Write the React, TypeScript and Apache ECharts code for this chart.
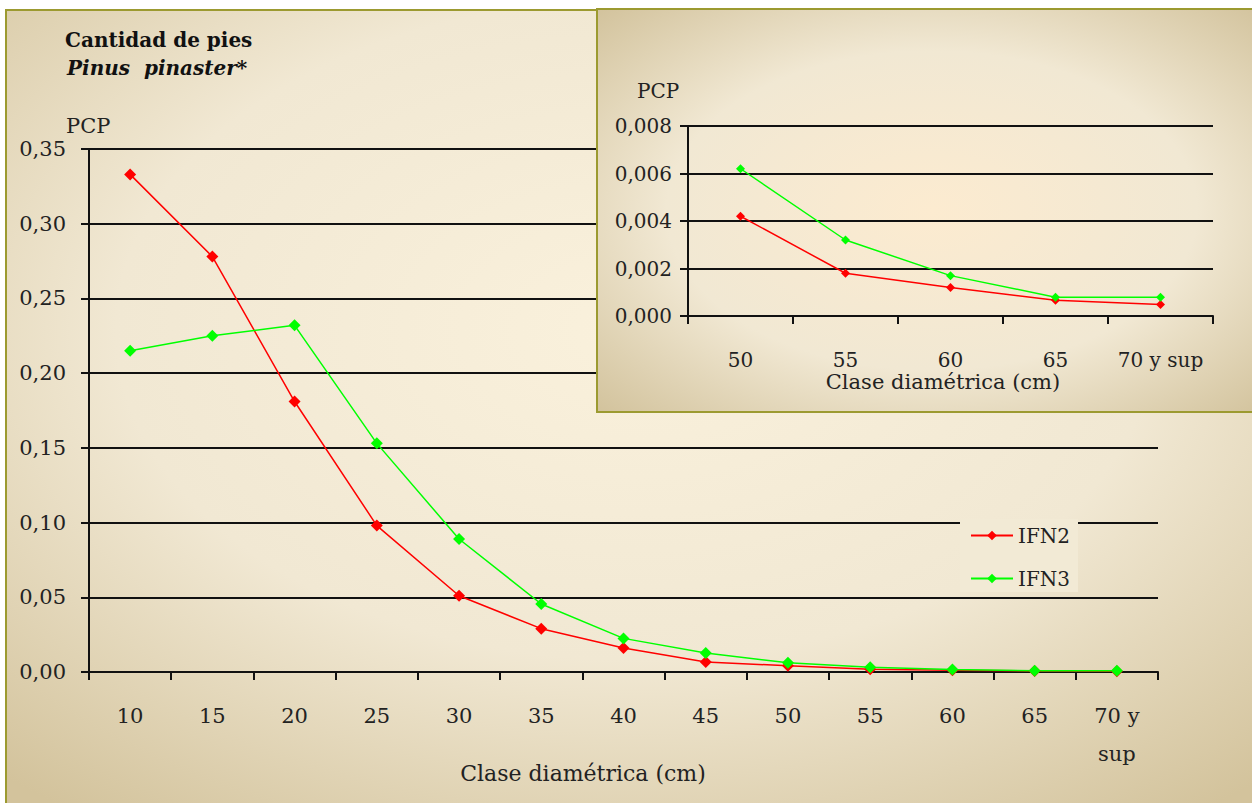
import React, { useEffect, useRef } from "react";
import * as echarts from "echarts";

const categories = ["10", "15", "20", "25", "30", "35", "40", "45", "50", "55", "60", "65", "70 y\nsup"];
const ifn2 = [0.333, 0.278, 0.181, 0.098, 0.051, 0.029, 0.016, 0.0067, 0.0042, 0.0018, 0.0012, 0.0007, 0.0005];
const ifn3 = [0.215, 0.225, 0.232, 0.153, 0.089, 0.0455, 0.0225, 0.0127, 0.0062, 0.0032, 0.0017, 0.0008, 0.0008];

const insetCategories = ["50", "55", "60", "65", "70 y sup"];
const insetIfn2 = [0.0042, 0.0018, 0.0012, 0.00066, 0.00048];
const insetIfn3 = [0.0062, 0.0032, 0.0017, 0.00079, 0.00079];

const FONT = "DejaVu Serif";
const BLACK = "#111";

function parchment(cx: number, cy: number, r: number, inner: string, outer: string) {
  return new echarts.graphic.RadialGradient(cx, cy, r, [
    { offset: 0, color: inner },
    { offset: 0.55, color: "#f1e8d3" },
    { offset: 1, color: outer },
  ]);
}

export default function App() {
  const ref = useRef<HTMLDivElement>(null);
  useEffect(() => {
    if (!ref.current) return;
    const chart = echarts.init(ref.current, undefined, { renderer: "svg" });
    const axisLineStyle = { color: BLACK, width: 2 };
    chart.setOption({
      animation: false,
      backgroundColor: "#ffffff",
      grid: [
        { left: 89, top: 149, width: 1069, height: 523 },
        { left: 688, top: 126, width: 525, height: 190 },
      ],
      legend: {
        orient: "vertical",
        left: 960,
        top: 519,
        itemWidth: 42,
        itemHeight: 12,
        itemGap: 22,
        padding: [6, 8, 3, 10],
        backgroundColor: "#f2ead5",
        textStyle: { fontFamily: FONT, fontSize: 20, color: "#222", lineHeight: 21 },
        data: ["IFN2", "IFN3"],
        z: 3,
      },
      xAxis: [
        {
          type: "category",
          gridIndex: 0,
          data: categories,
          axisLine: { lineStyle: axisLineStyle },
          axisTick: { show: true, length: 8, lineStyle: axisLineStyle },
          axisLabel: { interval: 0, margin: 25, fontFamily: FONT, fontSize: 21, color: "#222", lineHeight: 38 },
          splitLine: { show: false },
        },
        {
          type: "category",
          gridIndex: 1,
          data: insetCategories,
          z: 5,
          axisLine: { lineStyle: axisLineStyle },
          axisTick: { show: true, length: 8, lineStyle: axisLineStyle },
          axisLabel: { interval: 0, margin: 34, fontFamily: FONT, fontSize: 20, color: "#222", lineHeight: 20 },
          splitLine: { show: false },
        },
      ],
      yAxis: [
        {
          type: "value",
          gridIndex: 0,
          min: 0,
          max: 0.35,
          interval: 0.05,
          axisLine: { show: true, lineStyle: axisLineStyle },
          axisTick: { show: true, length: 8, lineStyle: axisLineStyle },
          axisLabel: {
            margin: 23,
            fontFamily: FONT,
            fontSize: 21,
            color: "#222",
            formatter: (v: number) => v.toFixed(2).replace(".", ","),
          },
          splitLine: { lineStyle: { color: BLACK, width: 2 } },
        },
        {
          type: "value",
          gridIndex: 1,
          min: 0,
          max: 0.008,
          interval: 0.002,
          z: 5,
          axisLine: { show: true, lineStyle: axisLineStyle },
          axisTick: { show: true, length: 8, lineStyle: axisLineStyle },
          axisLabel: {
            margin: 16,
            fontFamily: FONT,
            fontSize: 20,
            color: "#222",
            formatter: (v: number) => v.toFixed(3).replace(".", ","),
          },
          splitLine: { lineStyle: { color: BLACK, width: 2 } },
        },
      ],
      series: [
        {
          name: "IFN2",
          type: "line",
          xAxisIndex: 0,
          yAxisIndex: 0,
          data: ifn2,
          symbol: "diamond",
          symbolSize: 12,
          color: "#ff0000",
          lineStyle: { width: 1.5, color: "#ff0000" },
          z: 2,
        },
        {
          name: "IFN3",
          type: "line",
          xAxisIndex: 0,
          yAxisIndex: 0,
          data: ifn3,
          symbol: "diamond",
          symbolSize: 12,
          color: "#00ff00",
          lineStyle: { width: 1.5, color: "#00ff00" },
          z: 2,
        },
        {
          name: "IFN2 inset",
          type: "line",
          xAxisIndex: 1,
          yAxisIndex: 1,
          data: insetIfn2,
          symbol: "diamond",
          symbolSize: 9,
          color: "#ff0000",
          lineStyle: { width: 1.5, color: "#ff0000" },
          z: 6,
        },
        {
          name: "IFN3 inset",
          type: "line",
          xAxisIndex: 1,
          yAxisIndex: 1,
          data: insetIfn3,
          symbol: "diamond",
          symbolSize: 9,
          color: "#00ff00",
          lineStyle: { width: 1.5, color: "#00ff00" },
          z: 6,
        },
      ],
      graphic: [
        {
          type: "rect",
          z: -1,
          shape: { x: 6, y: 10, width: 1260, height: 800 },
          style: {
            fill: parchment(0.5, 0.4, 0.75, "#faf1dc", "#d3c39c"),
            stroke: "#9c9a30",
            lineWidth: 2,
          },
        },
        {
          type: "rect",
          z: 4,
          shape: { x: 597, y: 9, width: 670, height: 403 },
          style: {
            fill: parchment(0.5, 0.5, 0.72, "#fcebd0", "#d1c19a"),
            stroke: "#9c9a30",
            lineWidth: 2,
          },
        },
        {
          type: "text",
          z: 5,
          left: 65,
          top: 30,
          style: { text: "Cantidad de pies", font: `bold 20px "${FONT}"`, fill: "#111" },
        },
        {
          type: "text",
          z: 5,
          left: 67,
          top: 58,
          style: { text: "Pinus  pinaster*", font: `italic bold 20px "${FONT}"`, fill: "#111" },
        },
        {
          type: "text",
          z: 5,
          left: 66,
          top: 115,
          style: { text: "PCP", font: `21px "${FONT}"`, fill: "#222" },
        },
        {
          type: "text",
          z: 7,
          left: 637,
          top: 81,
          style: { text: "PCP", font: `20px "${FONT}"`, fill: "#222" },
        },
        {
          type: "text",
          z: 5,
          x: 583,
          y: 773,
          style: {
            text: "Clase diamétrica (cm)",
            font: `22px "${FONT}"`,
            fill: "#222",
            textAlign: "center",
            textVerticalAlign: "middle",
          },
        },
        {
          type: "text",
          z: 7,
          x: 943,
          y: 382,
          style: {
            text: "Clase diamétrica (cm)",
            font: `21px "${FONT}"`,
            fill: "#222",
            textAlign: "center",
            textVerticalAlign: "middle",
          },
        },
      ],
    });
    return () => chart.dispose();
  }, []);
  return (
    <div
      ref={ref}
      style={{ position: "absolute", left: 0, top: 0, width: 1252, height: 803 }}
    />
  );
}
